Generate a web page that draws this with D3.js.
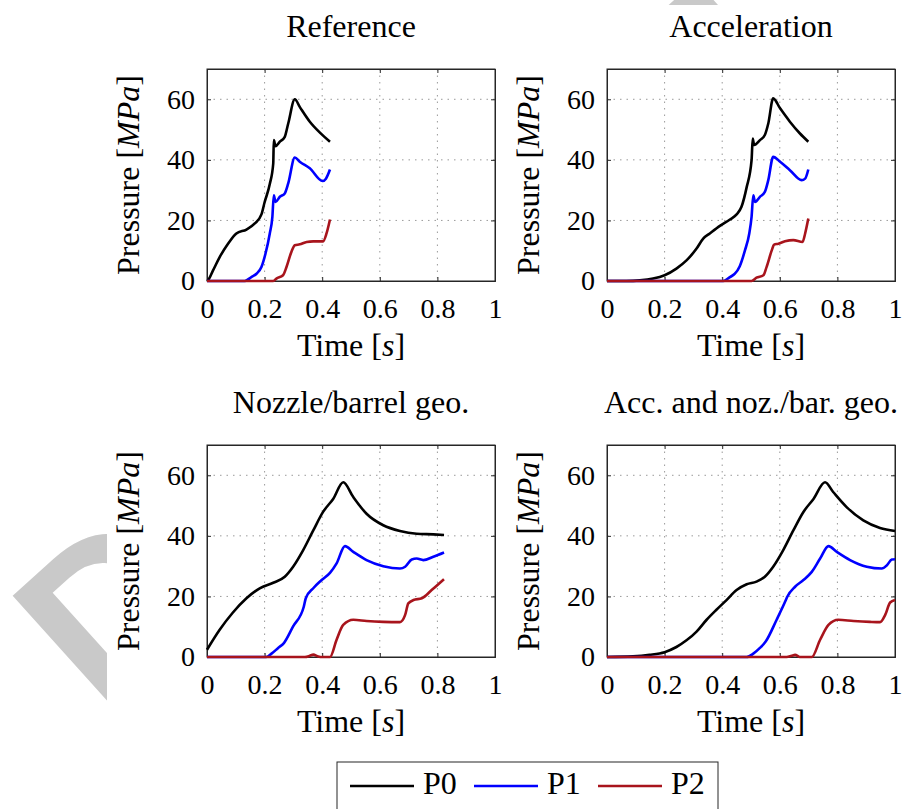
<!DOCTYPE html>
<html>
<head>
<meta charset="utf-8">
<script src="https://d3js.org/d3.v7.min.js"></script>
<style>
  body { margin: 0; background: #fff; }
  svg { display: block; }
  text { font-family: "Liberation Serif", serif; fill: #000; }
  .grid line { stroke: #9a9a9a; stroke-width: 1; stroke-dasharray: 1.5,5; }
</style>
</head>
<body>
<svg id="fig" width="915" height="809"></svg>
<script>
// panel titles, series names, ticks
var panelTitles = ["Reference", "Acceleration", "Nozzle/barrel geo.", "Acc. and noz./bar. geo."];
var seriesNames = ["P0", "P1", "P2"];
var seriesColors = ["#000000", "#0000ff", "#a8141c"];
var xTicks = [0, 0.2, 0.4, 0.6, 0.8, 1];
var yTicks = [0, 20, 40, 60];

// [time s, pressure MPa]
var refP0 = [[0,0],[0.003,0.2],[0.021,3.5],[0.044,7.9],[0.073,12.3],[0.102,15.7],[0.137,17],[0.166,19],[0.189,22],
  [0.2,26],[0.218,32],[0.23,38.8],[0.232,46.5],[0.238,44.5],[0.253,46],[0.27,47.6],[0.282,52],[0.305,60],
  [0.322,57.5],[0.357,52.6],[0.392,49],[0.427,46]];
var refP1 = [[0,0],[0.131,0],[0.154,1.3],[0.172,2.4],[0.189,4.6],[0.203,9],[0.218,15.7],[0.227,21.2],[0.232,28.3],
  [0.238,26.1],[0.253,27.8],[0.27,28.9],[0.282,32.2],[0.305,40.8],[0.322,39.4],[0.357,37.2],[0.401,33],
  [0.413,33.8],[0.427,36.8]];
var refP2 = [[0,0],[0.23,0],[0.241,0.8],[0.264,1.9],[0.276,4.6],[0.293,9.6],[0.305,11.8],[0.322,12.1],[0.346,12.9],
  [0.369,13.1],[0.403,13.1],[0.415,15.7],[0.427,20.3]];

var accP0 = [[0,0],[0.067,0],[0.114,0.2],[0.16,0.8],[0.2,1.9],[0.241,4.1],[0.276,6.8],[0.311,10.7],[0.334,14],
  [0.357,15.7],[0.392,18.2],[0.427,20.3],[0.45,22],[0.467,24.5],[0.485,31],[0.502,39.9],[0.506,47],[0.511,44.9],
  [0.531,46.5],[0.548,48.2],[0.56,52],[0.577,60.3],[0.601,57],[0.635,52.6],[0.67,48.7],[0.699,46]];
var accP1 = [[0,0],[0.403,0],[0.427,1.3],[0.444,2.4],[0.461,4.9],[0.479,10.1],[0.494,15.7],[0.502,21.2],[0.508,28.3],
  [0.514,26.1],[0.531,27.8],[0.548,29.4],[0.56,33.3],[0.577,41],[0.601,39.4],[0.635,36.6],[0.676,33.3],
  [0.688,33.8],[0.699,36.8]];
var accP2 = [[0,0],[0.502,0],[0.519,1.1],[0.543,1.9],[0.554,4.6],[0.572,10.1],[0.58,12],[0.595,12.3],[0.618,13.1],
  [0.647,13.5],[0.679,12.9],[0.688,15.7],[0.699,20.6]];

var nozP0 = [[0,2.4],[0.044,9],[0.09,14.7],[0.137,19.4],[0.183,22.7],[0.23,24.5],[0.27,26.5],[0.299,29.8],
  [0.334,35.3],[0.369,41.8],[0.403,47.9],[0.438,52.2],[0.473,57.7],[0.508,52.8],[0.554,47.3],[0.612,43.5],
  [0.67,41.6],[0.728,40.7],[0.786,40.5],[0.823,40.3]];
var nozP1 = [[0,0],[0.206,0],[0.224,1.1],[0.247,3],[0.267,4.6],[0.299,10.1],[0.336,16.6],[0.343,19.4],[0.369,22.7],
  [0.398,25.4],[0.427,27.8],[0.45,30.9],[0.479,36.6],[0.508,34.7],[0.554,32],[0.612,30],[0.67,29.2],
  [0.688,29.8],[0.711,32.2],[0.728,32.5],[0.751,32],[0.786,33.1],[0.823,34.5]];
var nozP2 = [[0,0],[0.34,0],[0.357,0.4],[0.369,0.8],[0.386,0.2],[0.398,0],[0.427,0],[0.45,5.7],[0.473,10.6],
  [0.508,12.3],[0.554,11.9],[0.612,11.6],[0.67,11.5],[0.688,13.9],[0.699,17.7],[0.717,18.8],[0.746,19.4],
  [0.78,22.1],[0.823,25.7]];

var bothP0 = [[0,0],[0.09,0.2],[0.148,0.7],[0.2,1.6],[0.241,3.3],[0.276,5.5],[0.311,8.4],[0.346,12.3],[0.38,15.6],
  [0.415,18.8],[0.45,22.1],[0.485,24],[0.519,24.9],[0.548,26.5],[0.577,29.8],[0.612,35.3],[0.647,41.8],
  [0.682,47.9],[0.717,52.2],[0.757,57.7],[0.786,54.4],[0.832,49.5],[0.89,45.1],[0.948,42.6],[1,41.6]];
var bothP1 = [[0,0],[0.485,0],[0.508,1.1],[0.531,3],[0.551,5.1],[0.589,12.3],[0.621,18.8],[0.626,19.9],[0.653,23.2],
  [0.682,25.4],[0.711,28.1],[0.74,32.5],[0.769,36.6],[0.798,34.7],[0.844,32],[0.902,29.8],[0.954,29.2],
  [0.972,30.3],[0.989,32.2],[1,32.3]];
var bothP2 = [[0,0],[0.624,0],[0.641,0.4],[0.653,0.7],[0.67,0],[0.711,0],[0.74,5.7],[0.769,10.6],[0.803,12.3],
  [0.856,11.9],[0.913,11.6],[0.948,11.5],[0.966,13.9],[0.983,18],[1,18.8]];

var panelData = [[refP0, refP1, refP2], [accP0, accP1, accP2], [nozP0, nozP1, nozP2], [bothP0, bothP1, bothP2]];

var svg = d3.select("#fig");

// faint watermark behind the figure, only its edges show
svg.append("text")
   .attr("transform", "translate(103,718) rotate(-42)")
   .style("font-family", "'Liberation Sans', sans-serif")
   .style("font-weight", "bold")
   .style("font-size", "220px")
   .style("letter-spacing", "60px")
   .style("fill", "#c9c9c9")
   .text("DRAFT");
svg.append("rect").attr("x", 107).attr("y", 5).attr("width", 808).attr("height", 804).attr("fill", "#fff");

var pw = 288, ph = 212;
var origins = [[207, 69], [607, 69], [207, 445], [607, 445]];

var x = d3.scaleLinear().domain([0, 1]).range([0, pw]);
var y = d3.scaleLinear().domain([0, 70]).range([ph, 0]);
var line = d3.line()
  .x(function(d) { return x(d[0]); })
  .y(function(d) { return y(d[1]); })
  .curve(d3.curveMonotoneX);

var fmt = function(d) { return d === 0 || d === 1 ? String(d) : d3.format(".1f")(d); };

origins.forEach(function(o, k) {
  var g = svg.append("g").attr("transform", "translate(" + o[0] + "," + o[1] + ")");

  // dotted grid
  var grid = g.append("g").attr("class", "grid");
  grid.selectAll(".gx").data(xTicks.slice(1, -1)).enter().append("line")
      .attr("x1", function(d) { return x(d); }).attr("x2", function(d) { return x(d); })
      .attr("y1", 0).attr("y2", ph);
  grid.selectAll(".gy").data(yTicks.slice(1)).enter().append("line")
      .attr("y1", function(d) { return y(d); }).attr("y2", function(d) { return y(d); })
      .attr("x1", 0).attr("x2", pw);

  // axes with inward ticks, mirrored on top/right
  var ax = [
    g.append("g").attr("transform", "translate(0," + ph + ")").call(d3.axisBottom(x).tickValues(xTicks).tickSize(-4).tickFormat(fmt).tickPadding(10)),
    g.append("g").call(d3.axisTop(x).tickValues(xTicks).tickSize(-4).tickFormat("")),
    g.append("g").call(d3.axisLeft(y).tickValues(yTicks).tickSize(-4).tickPadding(12)),
    g.append("g").attr("transform", "translate(" + pw + ",0)").call(d3.axisRight(y).tickValues(yTicks).tickSize(-4).tickFormat(""))
  ];
  ax.forEach(function(a) {
    a.attr("font-family", null);
    a.select(".domain").attr("stroke", "#262626");
    a.selectAll(".tick line").attr("stroke", "#262626");
    a.selectAll("text").style("font-size", "28px").attr("fill", "#000");
  });
  ax[0].selectAll("text").attr("dy", "0.95em");
  g.append("rect").attr("width", pw).attr("height", ph).attr("fill", "none").attr("stroke", "#262626");

  // series
  g.selectAll(".series").data(panelData[k]).enter().append("path")
    .attr("d", line)
    .attr("fill", "none")
    .attr("stroke", function(d, i) { return seriesColors[i]; })
    .attr("stroke-width", 2.6)
    .attr("stroke-linejoin", "round");

  // labels
  g.append("text").attr("x", pw / 2).attr("y", -32).attr("text-anchor", "middle")
    .style("font-size", "32px").text(panelTitles[k]);
  var xl = g.append("text").attr("x", pw / 2).attr("y", ph + 75).attr("text-anchor", "middle").style("font-size", "32px");
  xl.append("tspan").text("Time [");
  xl.append("tspan").style("font-style", "italic").text("s");
  xl.append("tspan").text("]");
  var yl = g.append("text").attr("transform", "translate(-68," + (ph / 2) + ") rotate(-90)")
    .attr("text-anchor", "middle").style("font-size", "32px");
  yl.append("tspan").text("Pressure [");
  yl.append("tspan").style("font-style", "italic").text("MPa");
  yl.append("tspan").text("]");
});

// legend
var leg = svg.append("g").attr("transform", "translate(337,762)");
leg.append("rect").attr("width", 381).attr("height", 60).attr("fill", "#fff").attr("stroke", "#262626");
var legX = d3.scalePoint().domain(seriesNames).range([13, 261]);
var items = leg.selectAll(".item").data(seriesNames).enter().append("g")
  .attr("transform", function(d) { return "translate(" + legX(d) + ",0)"; });
items.append("line").attr("x1", 0).attr("x2", 64).attr("y1", 24).attr("y2", 24)
  .attr("stroke", function(d, i) { return seriesColors[i]; }).attr("stroke-width", 2.6);
items.append("text").attr("x", 73).attr("y", 32).style("font-size", "32px").text(function(d) { return d; });
</script>
</body>
</html>
